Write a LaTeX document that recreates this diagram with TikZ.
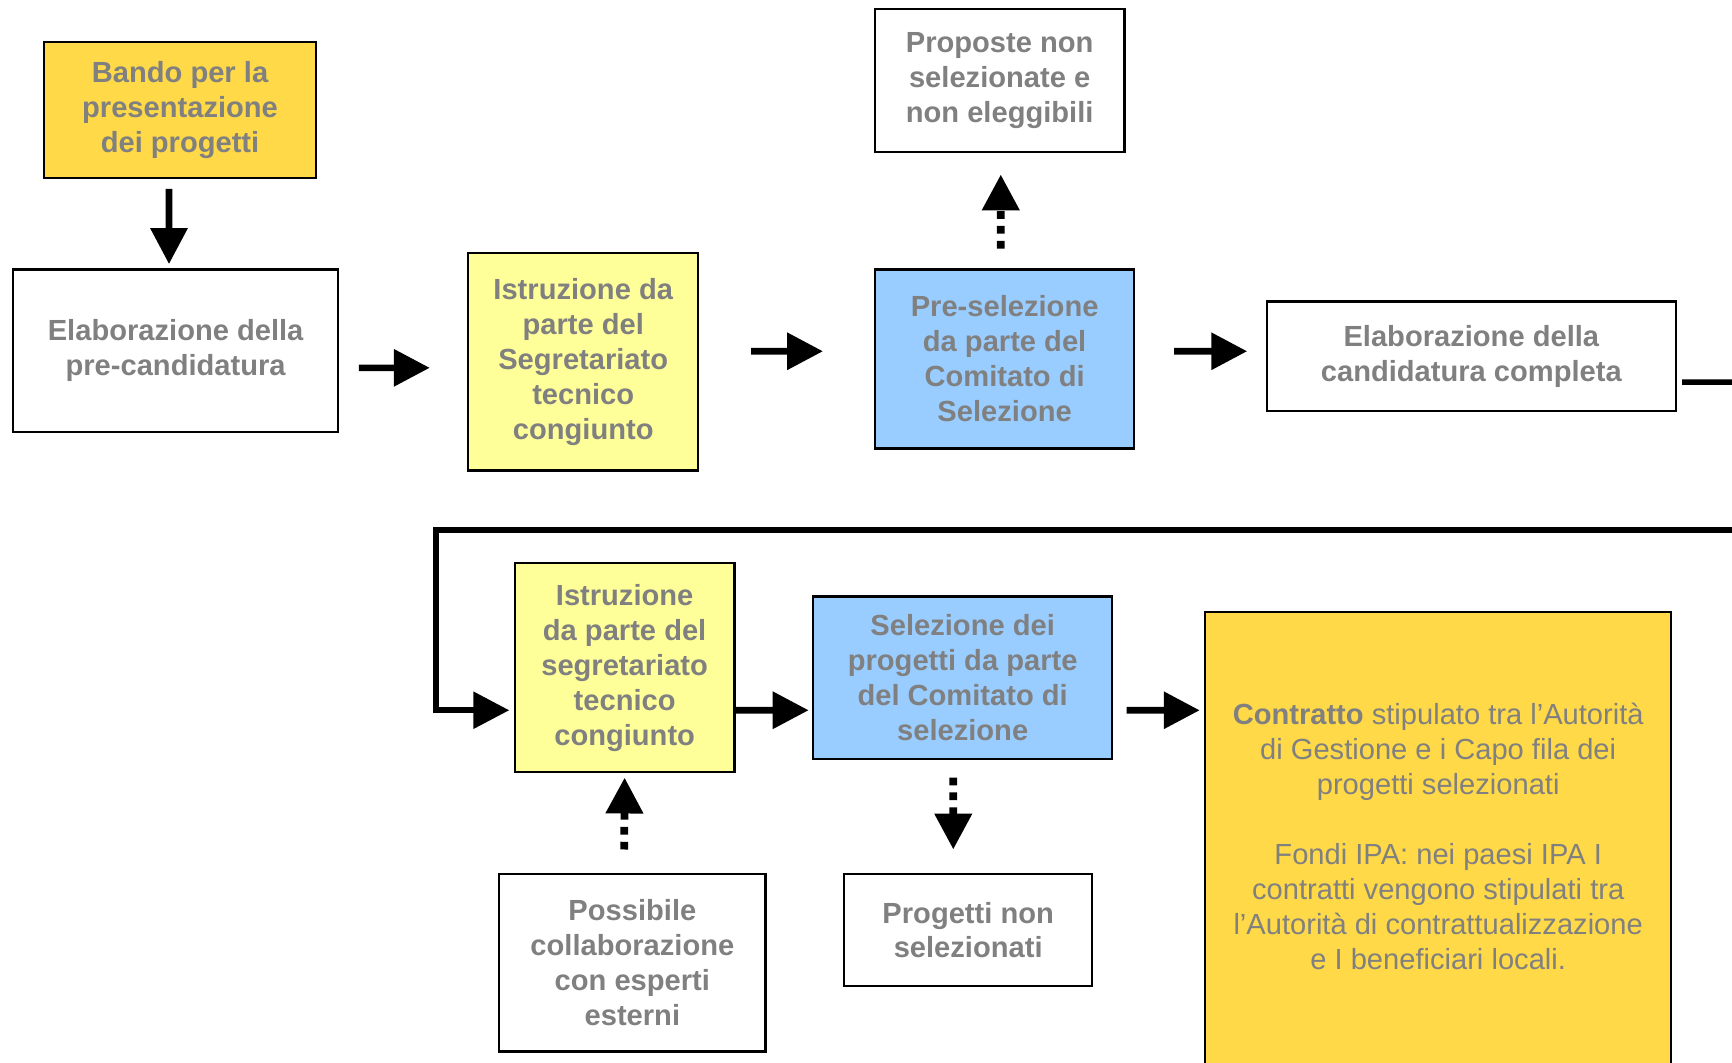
\documentclass[tikz,border=0pt]{standalone}
\usepackage{fontspec}
\setmainfont{Liberation Sans}
\usepackage{tikz}
\usetikzlibrary{arrows.meta}
\definecolor{gold}{RGB}{255,217,71}
\definecolor{paleyellow}{RGB}{255,255,153}
\definecolor{skyblue}{RGB}{153,204,255}
\definecolor{txtgray}{RGB}{128,128,128}

\begin{document}
\begin{tikzpicture}[x=0.02cm, y=-0.02cm,
  box/.style={draw, line width=1.1pt, align=center, inner sep=0pt, text=txtgray,
    font=\fontsize{15}{18}\selectfont\bfseries},
  arr/.style={line width=0.12cm, -{Triangle[length=0.65cm,width=0.65cm]}},
  dotarr/.style={arr, line width=0.14cm, dash pattern=on 0.14cm off 0.13cm}]
  \useasboundingbox (0,0) rectangle (1568,962);
  \clip (0,0) rectangle (1568,962);

  \node[box, fill=gold, minimum width=4.92cm, minimum height=2.46cm] (bando) at (163,99.5)
    {Bando per la\\presentazione\\dei progetti};
  \node[box, minimum width=5.88cm, minimum height=2.94cm] (precand) at (159,317.5)
    {Elaborazione della\\pre-candidatura};
  \node[box, fill=paleyellow, minimum width=4.16cm, minimum height=3.94cm] (istr1) at (528,327.5)
    {Istruzione da\\parte del\\Segretariato\\tecnico\\congiunto};
  \node[box, fill=skyblue, minimum width=4.70cm, minimum height=3.24cm] (presel) at (909.5,325)
    {Pre-selezione\\da parte del\\Comitato di\\Selezione};
  \node[box, minimum width=4.52cm, minimum height=2.60cm] (proposte) at (905,73)
    {Proposte non\\selezionate e\\non eleggibili};
  \node[box, minimum width=7.40cm, minimum height=1.98cm] (completa) at (1332,322.5)
    {Elaborazione della\\candidatura completa};

  \node[box, fill=paleyellow, minimum width=3.98cm, minimum height=3.78cm] (istr2) at (565.5,604.5)
    {Istruzione\\da parte del\\segretariato\\tecnico\\congiunto};
  \node[box, fill=skyblue, minimum width=5.42cm, minimum height=2.94cm] (selez) at (871.5,613.5)
    {Selezione dei\\progetti da parte\\del Comitato di\\selezione};
  \node[box, minimum width=4.82cm, minimum height=3.22cm] (possibile) at (572.5,871.5)
    {Possibile\\collaborazione\\con esperti\\esterni};
  \node[box, minimum width=4.50cm, minimum height=2.04cm] (nonsel) at (876.5,842)
    {Progetti non\\selezionati};
  \node[box, fill=gold, minimum width=8.44cm, minimum height=8.52cm] (contratto) at (1302,767) {};
  \node[align=center, text=txtgray, font=\fontsize{15}{18}\selectfont] (contrtext) at (1302,757)
    {\textbf{Contratto} stipulato tra l’Autorità\\di Gestione e i Capo fila dei\\progetti selezionati\\[18pt]
     Fondi IPA: nei paesi IPA I\\contratti vengono stipulati tra\\l’Autorità di contrattualizzazione\\e I beneficiari locali.};

  \coordinate (outR) at (1568,346);
  \coordinate (inR) at (1568,480);

  \draw[arr, shorten <=0.18cm, shorten >=0.08cm] ([xshift=-0.2cm]bando.south) -- ([xshift=-0.12cm]precand.north);
  \draw[arr, shorten <=0.36cm, shorten >=0.68cm] ([yshift=-0.31cm]precand.east) -- ([yshift=-0.11cm]istr1.west);
  \draw[arr, shorten <=0.94cm, shorten >=0.92cm] ([yshift=0.19cm]istr1.east) -- ([yshift=0.14cm]presel.west);
  \draw[arr, shorten <=0.70cm, shorten >=0.34cm] ([yshift=0.14cm]presel.east) -- ([yshift=0.09cm]completa.west);
  \draw[dotarr, shorten <=0.36cm, shorten >=0.38cm] ([xshift=-0.07cm]presel.north) -- ([xshift=0.02cm]proposte.south);
  \draw[line width=0.1cm, shorten <=0.1cm] ([yshift=-0.47cm]completa.east) -- (outR);

  \draw[arr, line width=0.11cm, shorten >=0.08cm] (inR) -- ++(-1173,0) |- ([yshift=-0.77cm]istr2.west);
  \draw[arr, shorten >=0.06cm] ([yshift=-0.77cm]istr2.east) -- ([yshift=-0.59cm]selez.west);
  \draw[arr, shorten <=0.24cm, shorten >=0.08cm] ([yshift=-0.59cm]selez.east) -- ([yshift=2.48cm]contratto.west);
  \draw[dotarr, shorten <=0.42cm, shorten >=0.08cm] ([xshift=-0.15cm]possibile.north) -- (istr2.south);
  \draw[dotarr, shorten <=0.32cm, shorten >=0.42cm] ([xshift=-0.17cm]selez.south) -- ([xshift=-0.27cm]nonsel.north);
\end{tikzpicture}
\end{document}
